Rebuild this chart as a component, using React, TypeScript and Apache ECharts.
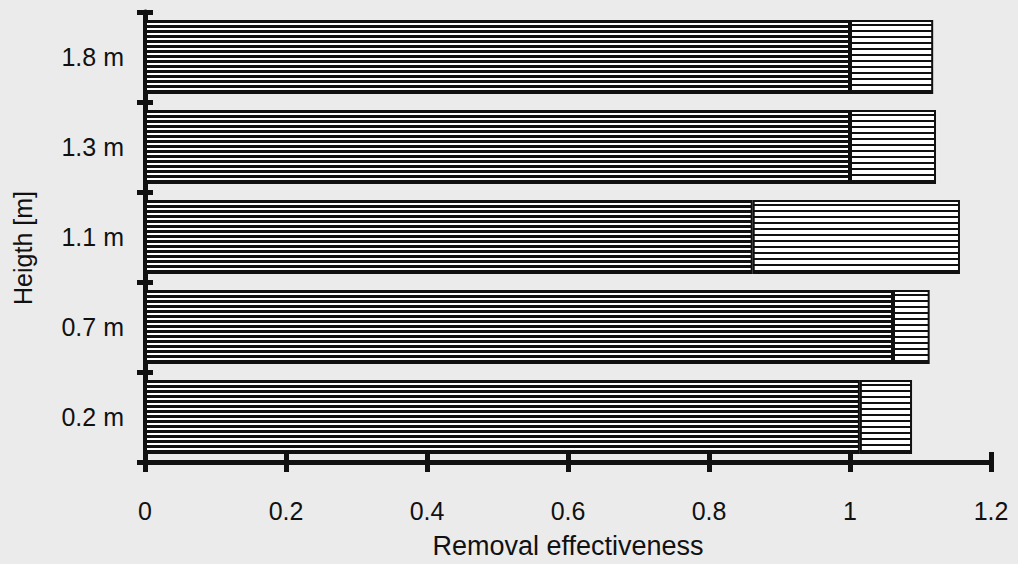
import React, { useEffect, useRef } from "react";
import * as echarts from "echarts";

const categories = ["0.2 m", "0.7 m", "1.1 m", "1.3 m", "1.8 m"];
const baseValues = [1.014, 1.061, 0.862, 1.0, 1.0];
const extraValues = [0.074, 0.052, 0.294, 0.122, 0.118];
const xTicks = [0, 0.2, 0.4, 0.6, 0.8, 1, 1.2];

function stripes(period: number, black: number): HTMLCanvasElement {
  const c = document.createElement("canvas");
  c.width = 8;
  c.height = period;
  const ctx = c.getContext("2d")!;
  ctx.fillStyle = "#ffffff";
  ctx.fillRect(0, 0, 8, period);
  ctx.fillStyle = "#111111";
  ctx.fillRect(0, 0, 8, black);
  return c;
}

export default function App() {
  const ref = useRef<HTMLDivElement>(null);
  useEffect(() => {
    document.body.style.margin = "0";
    if (!ref.current) return;
    const chart = echarts.init(ref.current, null, { renderer: "svg" });
    const font = "Liberation Sans";
    const darkPattern = stripes(5, 3);
    const lightPattern = stripes(6, 2);
    const xCommon = {
      type: "value" as const,
      min: 0,
      max: 1.2,
      interval: 0.2,
      splitLine: { show: false },
    };
    const yCommon = {
      type: "category" as const,
      data: categories,
    };
    chart.setOption({
      animation: false,
      backgroundColor: "#ebebeb",
      grid: { left: 145, right: 27, top: 12, bottom: 99, containLabel: false },
      xAxis: [
        {
          ...xCommon,
          name: "Removal effectiveness",
          nameLocation: "middle",
          nameGap: 70,
          nameTextStyle: { fontFamily: font, fontSize: 27, color: "#111" },
          axisLine: { show: true, lineStyle: { color: "#111", width: 5 } },
          axisTick: { show: true, inside: false, length: 10, lineStyle: { color: "#111", width: 5 } },
          axisLabel: {
            margin: 36,
            fontFamily: font,
            fontSize: 25,
            color: "#111",
            formatter: (v: number) => {
              const t = xTicks.find((x) => Math.abs(x - v) < 1e-6);
              return t === undefined ? "" : String(t);
            },
          },
        },
        {
          ...xCommon,
          position: "bottom",
          axisLine: { show: false },
          axisTick: { show: true, inside: true, length: 10, lineStyle: { color: "#111", width: 5 } },
          axisLabel: { show: false },
        },
      ],
      yAxis: [
        {
          ...yCommon,
          name: "Heigth [m]",
          nameLocation: "middle",
          nameGap: 110,
          nameTextStyle: { fontFamily: font, fontSize: 25, color: "#111", padding: [0, 22, 0, 0] },
          axisLine: { show: true, lineStyle: { color: "#111", width: 5 } },
          axisTick: { show: true, inside: false, length: 8, lineStyle: { color: "#111", width: 5 } },
          axisLabel: { margin: 21, fontFamily: font, fontSize: 25, color: "#111" },
        },
        {
          ...yCommon,
          position: "left",
          axisLine: { show: false },
          axisTick: { show: true, inside: true, length: 8, lineStyle: { color: "#111", width: 5 } },
          axisLabel: { show: false },
        },
      ],
      series: [
        {
          type: "bar",
          stack: "total",
          data: baseValues,
          barWidth: "82%",
          itemStyle: {
            color: { image: darkPattern, repeat: "repeat" },
            borderColor: "#111",
            borderWidth: 2,
          },
        },
        {
          type: "bar",
          stack: "total",
          data: extraValues,
          barWidth: "82%",
          itemStyle: {
            color: { image: lightPattern, repeat: "repeat" },
            borderColor: "#111",
            borderWidth: 2,
          },
        },
      ],
    });
    return () => chart.dispose();
  }, []);
  return <div ref={ref} style={{ width: 1018, height: 564 }} />;
}
